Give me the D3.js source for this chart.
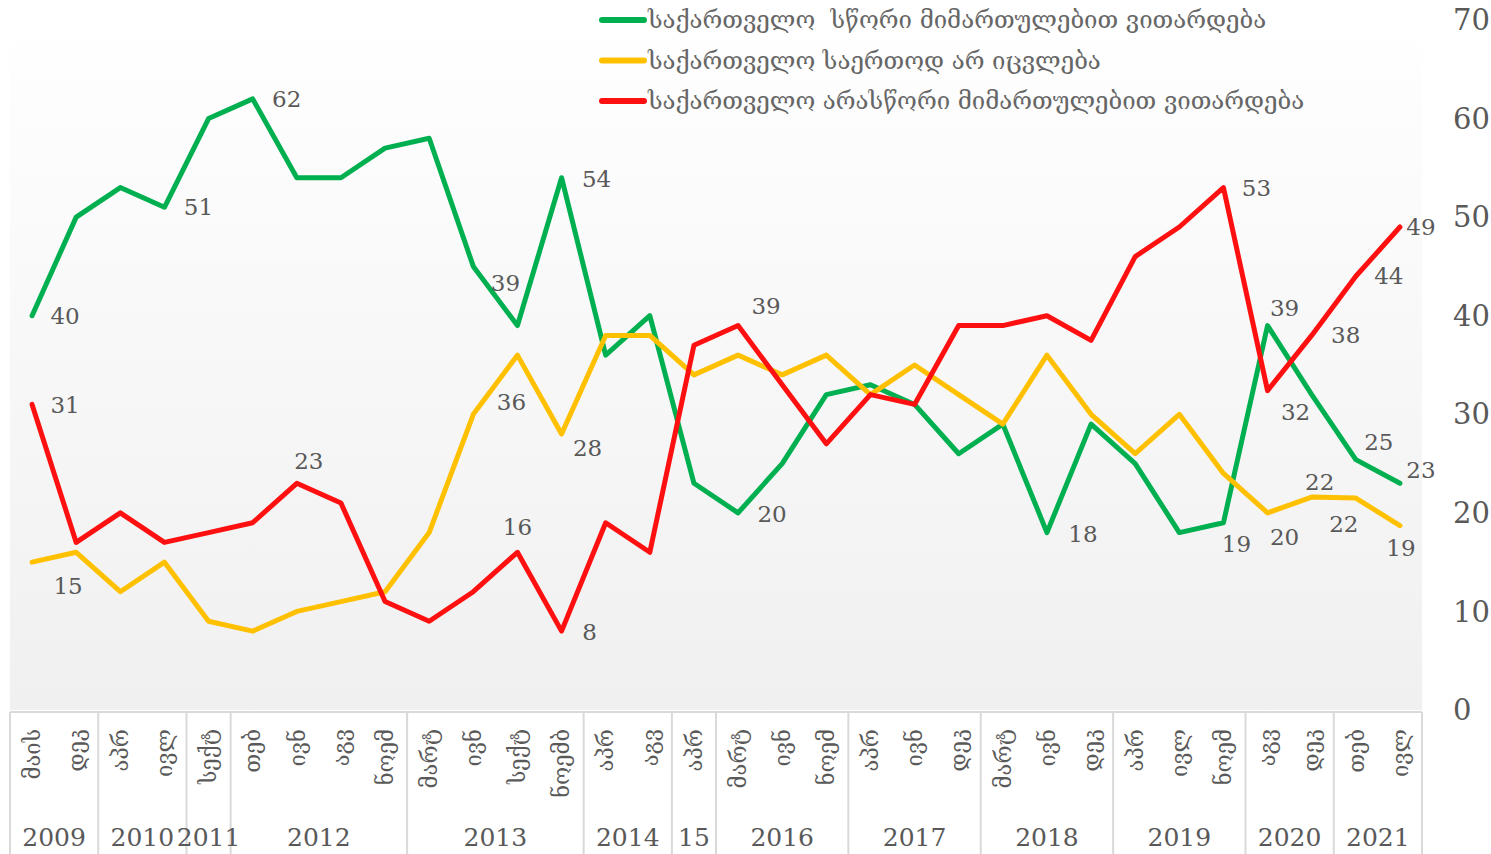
<!DOCTYPE html>
<html>
<head>
<meta charset="utf-8">
<script src="https://cdn.jsdelivr.net/npm/d3@7"></script>
<style>
  body { margin: 0; background: #fff; }
  svg { display: block; }
</style>
</head>
<body>
<div id="chart"></div>
<script>
// survey waves: month label + year group
let months = ['მაის', 'დეკ', 'აპრ', 'ივლ', 'სექტ', 'თებ', 'ივნ', 'აგვ', 'ნოემ',
  'მარტ', 'ივნ', 'სექტ', 'ნოემბ', 'აპრ', 'აგვ', 'აპრ', 'მარტ', 'ივნ', 'ნოემ',
  'აპრ', 'ივნ', 'დეკ', 'მარტ', 'ივნ', 'დეკ', 'აპრ', 'ივლ', 'ნოემ', 'აგვ', 'დეკ',
  'თებ', 'ივლ'];
let years = ['2009', '2010', '2011', '2012', '2013', '2014', '15', '2016', '2017',
  '2018', '2019', '2020', '2021'];
let yearCounts = [2, 2, 1, 4, 4, 2, 1, 3, 3, 3, 3, 2, 2];

let seriesNames = [
  'საქართველო  სწორი მიმართულებით ვითარდება',
  'საქართველო საერთოდ არ იცვლება',
  'საქართველო არასწორი მიმართულებით ვითარდება'
];

let rightDir = [40, 50, 53, 51, 60, 62, 54, 54, 57, 58, 45, 39, 54, 36, 40, 23,
  20, 25, 32, 33, 31, 26, 29, 18, 29, 25, 18, 19, 39, 32, 25.4, 23];
let noChange = [15, 16, 12, 15, 9, 8, 10, 11, 12, 18, 30, 36, 28, 38, 38, 34,
  36, 34, 36, 32, 35, 32, 29, 36, 30, 26, 30, 24, 20, 21.6, 21.5, 18.7];
let wrongDir = [31, 17, 20, 17, 18, 19, 23, 21, 11, 9, 12, 16, 8, 19, 16, 37,
  39, 33, 27, 32, 31, 39, 39, 40, 37.5, 46, 49, 53, 32.4, 38, 44, 49];

let yTicks = [0, 10, 20, 30, 40, 50, 60, 70];

let width = 1491,
  height = 854;

let plotLeft = 10, plotRight = 1422, plotTop = 13, plotBottom = 710;

let x = d3.scaleBand()
  .domain(d3.range(months.length))
  .range([plotLeft, plotRight]);

let y = d3.scaleLinear()
  .domain([0, 70])
  .range([plotBottom, 20]);

let colors = ['#00b050', '#ffc000', '#ff1010'];
let series = [rightDir, noChange, wrongDir];

// which points carry a value label, and where the label sits (dx, dy)
let labelSpots = [
  [[0, 33, 0], [3, 34, 0], [5, 34, 0], [11, -12, -43], [12, 35, 1], [16, 34, 1],
   [23, 36, 1], [27, 13, 21], [28, 17, -18], [30, 23, -18], [31, 21, -13]],
  [[0, 36, 24], [11, -6, 47], [12, 26, 14], [28, 17, 24], [29, 8, -15],
   [30, -12, 26], [31, 1, 22]],
  [[0, 33, 1], [6, 12, -22], [11, 0, -25], [12, 28, 1], [16, 28, -20],
   [27, 33, 0], [28, 28, 21], [29, 34, 0], [30, 33, 0], [31, 21, 0]]
];

function chart() {
  const svg = d3.select('#chart').append('svg')
    .attr('width', width)
    .attr('height', height)
    .style('font-family', '"DejaVu Serif", serif');

  const defs = svg.append('defs');
  const grad = defs.append('linearGradient')
    .attr('id', 'bg')
    .attr('x1', 0).attr('y1', 0).attr('x2', 0).attr('y2', 1);
  grad.append('stop').attr('offset', '0%').attr('stop-color', '#ffffff');
  grad.append('stop').attr('offset', '100%').attr('stop-color', '#f0f0f0');

  svg.append('rect')
    .attr('x', plotLeft)
    .attr('y', plotTop)
    .attr('width', plotRight - plotLeft)
    .attr('height', plotBottom - plotTop)
    .attr('fill', 'url(#bg)');

  // category axis box
  const axisG = svg.append('g');
  axisG.append('line')
    .attr('x1', plotLeft).attr('x2', plotRight)
    .attr('y1', plotBottom + 2).attr('y2', plotBottom + 2)
    .attr('stroke', '#d9d9d9').attr('stroke-width', 2);

  let start = 0;
  const bounds = [0];
  yearCounts.forEach(c => { start += c; bounds.push(start); });

  axisG.selectAll('line.sep')
    .data(bounds)
    .enter().append('line')
    .attr('class', 'sep')
    .attr('x1', i => i < months.length ? x(i) : x.range()[1])
    .attr('x2', i => i < months.length ? x(i) : x.range()[1])
    .attr('y1', plotBottom + 2)
    .attr('y2', height)
    .attr('stroke', '#d9d9d9')
    .attr('stroke-width', 2);

  axisG.selectAll('text.month')
    .data(months)
    .enter().append('text')
    .attr('class', 'month')
    .attr('transform', (d, i) => `translate(${x(i) + x.bandwidth() / 2}, 729) rotate(-90)`)
    .attr('text-anchor', 'end')
    .attr('dy', '0.35em')
    .attr('fill', '#595959')
    .style('font-size', '22px')
    .text(d => d);

  axisG.selectAll('text.year')
    .data(years)
    .enter().append('text')
    .attr('class', 'year')
    .attr('x', (d, i) => (x(bounds[i]) + (bounds[i + 1] < months.length ? x(bounds[i + 1]) : plotRight)) / 2)
    .attr('y', 837)
    .attr('dy', '0.35em')
    .attr('text-anchor', 'middle')
    .attr('fill', '#595959')
    .style('font-size', '25px')
    .text(d => d);

  // right value axis, labels only
  svg.append('g').selectAll('text')
    .data(yTicks)
    .enter().append('text')
    .attr('x', 1453)
    .attr('y', d => y(d))
    .attr('dy', '0.35em')
    .attr('fill', '#595959')
    .style('font-size', '29px')
    .text(d => d);

  const line = d3.line()
    .x((d, i) => x(i) + x.bandwidth() / 2)
    .y(d => y(d));

  svg.append('g').selectAll('path')
    .data(series)
    .enter().append('path')
    .attr('fill', 'none')
    .attr('stroke', (d, i) => colors[i])
    .attr('stroke-width', 5)
    .attr('stroke-linejoin', 'round')
    .attr('stroke-linecap', 'round')
    .attr('d', line);

  // value labels
  const lbl = svg.append('g');
  series.forEach((vals, s) => {
    lbl.selectAll(null)
      .data(labelSpots[s])
      .enter().append('text')
      .attr('x', d => x(d[0]) + x.bandwidth() / 2 + d[1])
      .attr('y', d => y(vals[d[0]]) + d[2])
      .attr('dy', '0.35em')
      .attr('text-anchor', 'middle')
      .attr('fill', '#595959')
      .style('font-size', '23px')
      .text(d => Math.round(vals[d[0]]));
  });

  // legend
  const leg = svg.append('g');
  const items = leg.selectAll('g')
    .data(seriesNames)
    .enter().append('g')
    .attr('transform', (d, i) => `translate(602, ${20 + i * 40.5})`);
  items.append('line')
    .attr('x1', 0).attr('x2', 42)
    .attr('stroke', (d, i) => colors[i])
    .attr('stroke-width', 6)
    .attr('stroke-linecap', 'round');
  items.append('text')
    .attr('x', 46)
    .attr('dy', '0.35em')
    .attr('fill', '#666666')
    .style('font-size', '24px')
    .style('white-space', 'pre')
    .text(d => d);

  return svg.node();
}

chart();
</script>
</body>
</html>
